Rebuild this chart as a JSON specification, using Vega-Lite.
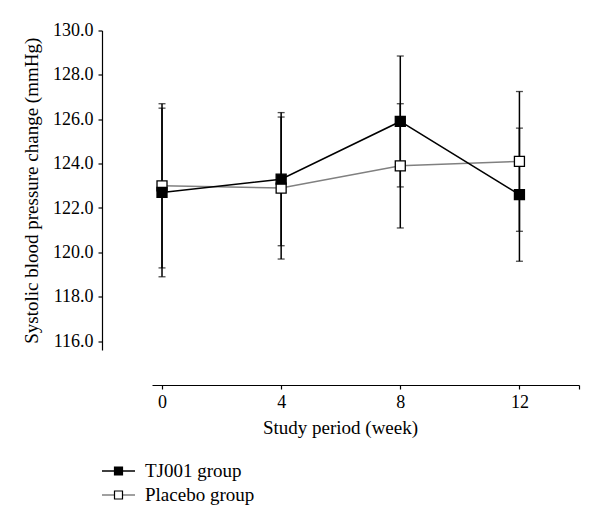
{
  "$schema": "https://vega.github.io/schema/vega-lite/v6.json",
  "width": 427,
  "height": 319.5,
  "autosize": "none",
  "padding": {"left": 152, "top": 30.5, "right": 21, "bottom": 179},
  "config": {"view": {"stroke": null}, "font": "Liberation Serif"},
  "data": {
    "values": [
      {"week": 0, "group": "Placebo group", "grp": "Placebo group", "mean": 123.0, "lo": 119.3, "hi": 126.7},
      {"week": 4, "group": "Placebo group", "grp": "Placebo group", "mean": 122.9, "lo": 119.7, "hi": 126.1},
      {"week": 8, "group": "Placebo group", "grp": "Placebo group", "mean": 123.9, "lo": 121.1, "hi": 126.7},
      {"week": 12, "group": "Placebo group", "grp": "Placebo group", "mean": 124.1, "lo": 120.95, "hi": 127.25},
      {"week": 0, "group": "TJ001 group", "grp": "TJ001 group", "mean": 122.7, "lo": 118.9, "hi": 126.5},
      {"week": 4, "group": "TJ001 group", "grp": "TJ001 group", "mean": 123.3, "lo": 120.3, "hi": 126.3},
      {"week": 8, "group": "TJ001 group", "grp": "TJ001 group", "mean": 125.9, "lo": 122.95, "hi": 128.85},
      {"week": 12, "group": "TJ001 group", "grp": "TJ001 group", "mean": 122.6, "lo": 119.6, "hi": 125.6}
    ]
  },
  "encoding": {
    "x": {
      "field": "week", "type": "quantitative",
      "scale": {"domain": [-0.336, 14], "nice": false, "zero": false},
      "axis": {
        "values": [0, 4, 8, 12, 14],
        "labelExpr": "datum.value == 14 ? '' : datum.label",
        "offset": 35, "grid": false, "tickSize": 4,
        "domainColor": "black", "tickColor": "black", "domainWidth": 1.2, "tickWidth": 1.2,
        "labelFontSize": 18, "labelColor": "black", "labelPadding": 4,
        "title": "Study period (week)", "titleFontSize": 19, "titleFontWeight": "normal",
        "titleColor": "black", "titleX": 188, "titlePadding": 7
      }
    }
  },
  "layer": [
    {
      "mark": {"type": "rule", "color": "black", "strokeWidth": 1.5},
      "encoding": {
        "y": {
          "field": "lo", "type": "quantitative",
          "scale": {"domain": [115.6, 130], "nice": false, "zero": false},
          "axis": {
            "values": [116, 118, 120, 122, 124, 126, 128, 130],
            "format": ".1f", "offset": 50, "grid": false, "tickSize": 4,
            "domainColor": "black", "tickColor": "black", "domainWidth": 1.2, "tickWidth": 1.2,
            "labelFontSize": 18, "labelColor": "black", "labelPadding": 5,
            "title": "Systolic blood pressure change (mmHg)", "titleFontSize": 19,
            "titleFontWeight": "normal", "titleColor": "black", "titlePadding": 11
          }
        },
        "y2": {"field": "hi"}
      }
    },
    {
      "mark": {"type": "tick", "orient": "horizontal", "color": "black", "size": 7, "thickness": 1.3},
      "encoding": {"y": {"field": "lo", "type": "quantitative"}}
    },
    {
      "mark": {"type": "tick", "orient": "horizontal", "color": "black", "size": 7, "thickness": 1.3},
      "encoding": {"y": {"field": "hi", "type": "quantitative"}}
    },
    {
      "mark": {"type": "line", "strokeWidth": 1.5},
      "encoding": {
        "y": {"field": "mean", "type": "quantitative"},
        "stroke": {
          "field": "group", "type": "nominal",
          "scale": {"domain": ["TJ001 group", "Placebo group"], "range": ["black", "#808080"]},
          "legend": {
            "orient": "none", "legendX": -43, "legendY": 431, "direction": "vertical",
            "title": null, "padding": 0, "symbolType": "M-4.125,0H4.125", "symbolSize": 64,
            "rowPadding": 4, "symbolStrokeWidth": 1.5, "labelFontSize": 19, "labelColor": "black", "labelOffset": 17
          }
        }
      }
    },
    {
      "mark": {"type": "point", "shape": "square", "filled": true, "opacity": 1, "size": 100, "stroke": "black", "strokeWidth": 1.3},
      "encoding": {
        "y": {"field": "mean", "type": "quantitative"},
        "fill": {
          "field": "grp", "type": "nominal",
          "sort": ["TJ001 group", "Placebo group"],
          "scale": {"range": ["black", "white"]},
          "legend": {
            "orient": "none", "legendX": -43, "legendY": 431, "direction": "vertical",
            "title": null, "padding": 0, "symbolType": "square", "symbolSize": 64, "symbolOpacity": 1,
            "rowPadding": 4, "symbolStrokeColor": "black", "symbolStrokeWidth": 1.2, "labelFontSize": 19,
            "labelExpr": "''"
          }
        }
      }
    }
  ]
}
